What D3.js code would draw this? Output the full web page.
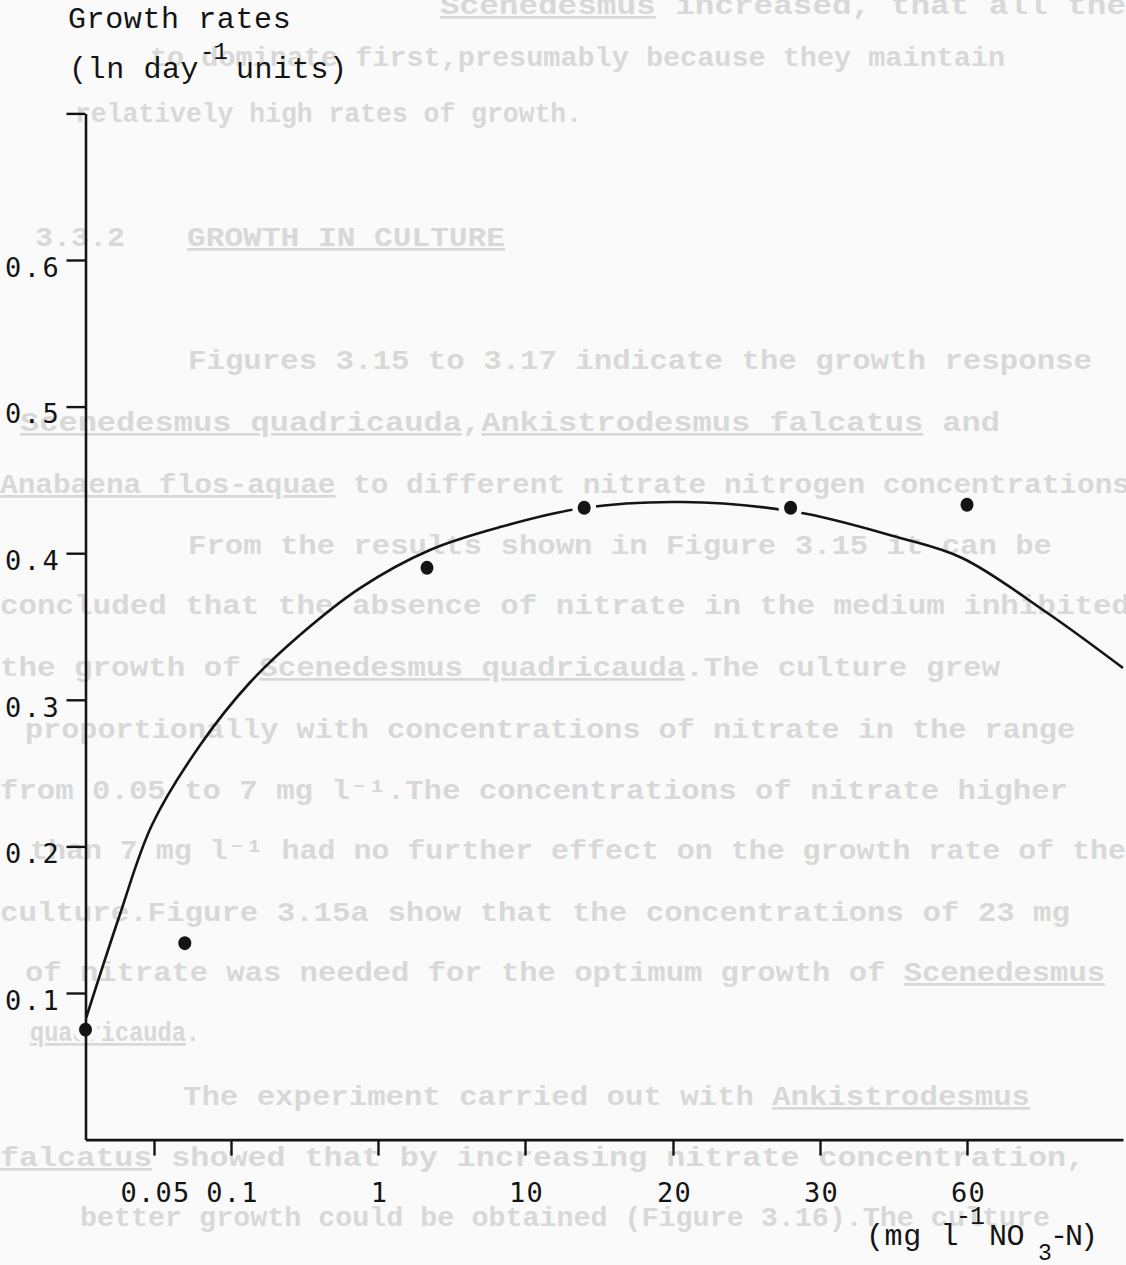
<!DOCTYPE html>
<html>
<head>
<meta charset="utf-8">
<script src="https://cdn.jsdelivr.net/npm/d3@7/dist/d3.min.js"></script>
<style>
  html, body { margin: 0; padding: 0; background: #fafafa; }
  svg { display: block; }
</style>
</head>
<body>
<svg id="chart" width="1126" height="1265"></svg>
<script>
// Nitrate concentration (mg l-1 NO3-N) and measured growth rate (ln day-1)
const concentration = [0, 0.07, 4, 14, 28, 60];
const growthRate = [0.075, 0.134, 0.390, 0.431, 0.431, 0.433];

// Hand-fitted response curve through the measurements
const fitConc = [0, 0.025, 0.0485, 0.08, 0.216, 0.522, 0.89, 4.18, 8.47, 13.9, 20.6, 28.4, 45.7, 59, 76.5, 92];
const fitRate = [0.0816, 0.1532, 0.2146, 0.2692, 0.3118, 0.3442, 0.3762, 0.4022, 0.4178, 0.4308, 0.4349, 0.4281, 0.411, 0.3967, 0.3592, 0.3217];

// Axis ticks
const xTickValues = [0.05, 0.1, 1, 10, 20, 30, 60];
const xTickLabels = ["0.05", "0.1", "1", "10", "20", "30", "60"];
const yTickValues = [0.1, 0.2, 0.3, 0.4, 0.5, 0.6, 0.7];
const yTickLabels = ["0.1", "0.2", "0.3", "0.4", "0.5", "0.6", ""];

// Faint show-through text of the facing typescript page (underscores mark underlined words)
const backPageText = [
  "_Scenedesmus_ increased, that all the",
  "to dominate first,presumably because they maintain",
  "relatively high rates of growth.",
  "3.3.2",
  "_GROWTH IN CULTURE_",
  "Figures 3.15 to 3.17 indicate the growth response",
  "_Scenedesmus quadricauda_,_Ankistrodesmus falcatus_ and",
  "_Anabaena flos-aquae_ to different nitrate nitrogen concentrations",
  "From the results shown in Figure 3.15 it can be",
  "concluded that the absence of nitrate in the medium inhibited",
  "the growth of _Scenedesmus quadricauda_.The culture grew",
  "proportionally with concentrations of nitrate in the range",
  "from 0.05 to 7 mg l\u207B\u00B9.The concentrations of nitrate higher",
  "than 7 mg l\u207B\u00B9 had no further effect on the growth rate of the",
  "culture.Figure 3.15a show that the concentrations of 23 mg",
  "of nitrate was needed for the optimum growth of _Scenedesmus_",
  "_quadricauda_.",
  "The experiment carried out with _Ankistrodesmus_",
  "_falcatus_ showed that by increasing nitrate concentration,",
  "better growth could be obtained (Figure 3.16).The culture"
];
// layout of those lines: [left, right, baseline]
const backPageLayout = [
  [440, 1126, 14], [150, 1005, 66], [75, 582, 122], [35, 125, 246], [187, 505, 246],
  [188, 1092, 369], [20, 1000, 431], [0, 1130, 493], [188, 1052, 554], [0, 1130, 614],
  [0, 1000, 676], [25, 1075, 738], [0, 1068, 799], [30, 1126, 859], [0, 1070, 921],
  [25, 1105, 981], [30, 200, 1041], [183, 1030, 1105], [0, 1085, 1166], [80, 1050, 1226]
];

const svg = d3.select("#chart");
const ink = "#141414";
const paper = "#fafafa";

// ---- show-through page text ----
const back = svg.append("g")
  .attr("font-family", "'Liberation Mono', 'DejaVu Sans Mono', monospace")
  .attr("font-weight", "bold")
  .attr("font-size", 27)
  .attr("fill", "#d8d8d8");

backPageText.forEach((line, i) => {
  const [x0, x1, yb] = backPageLayout[i];
  const t = back.append("text")
    .attr("x", x0).attr("y", yb)
    .attr("textLength", x1 - x0)
    .attr("lengthAdjust", "spacingAndGlyphs")
    .attr("xml:space", "preserve");
  line.split("_").forEach((part, k) => {
    if (!part) return;
    t.append("tspan")
      .attr("text-decoration", k % 2 ? "underline" : null)
      .text(part);
  });
});

// ---- scales ----
// piecewise scale: the horizontal axis is drawn with uneven spacing between the labelled doses
const x = d3.scaleLinear()
  .domain([0, 0.05, 0.1, 1, 10, 20, 30, 60, 92])
  .range([85.5, 154, 231, 378, 525, 673, 820, 967, 1123]);
const y = d3.scaleLinear()
  .domain([0, 0.7])
  .range([1139.6, 113.4]);

// ---- fitted curve ----
const line = d3.line()
  .x((d, i) => x(fitConc[i]))
  .y((d, i) => y(fitRate[i]))
  .curve(d3.curveCatmullRom.alpha(0.5));

svg.append("path")
  .datum(fitConc)
  .attr("d", line)
  .attr("fill", "none")
  .attr("stroke", ink)
  .attr("stroke-width", 2.6);

// pen lifted around the plotted points
svg.append("g").selectAll("circle")
  .data(concentration)
  .join("circle")
  .attr("cx", (d) => x(d))
  .attr("cy", (d, i) => y(growthRate[i]))
  .attr("r", 12)
  .attr("fill", paper);

// ---- axes ----
const xAxis = svg.append("g")
  .attr("transform", `translate(0,${y(0)})`)
  .call(d3.axisBottom(x)
    .tickValues(xTickValues)
    .tickFormat((d, i) => xTickLabels[i])
    .tickSize(16)
    .tickSizeOuter(0)
    .tickPadding(27));

const yAxis = svg.append("g")
  .attr("transform", `translate(${x(0)},0)`)
  .call(d3.axisLeft(y)
    .tickValues(yTickValues)
    .tickFormat((d, i) => yTickLabels[i])
    .tickSize(19)
    .tickSizeOuter(0));

[xAxis, yAxis].forEach(g => {
  g.select(".domain").attr("stroke", ink).attr("stroke-width", 2.6);
  g.selectAll(".tick line").attr("stroke", ink).attr("stroke-width", 2.4);
  g.selectAll(".tick text")
    .attr("fill", ink)
    .attr("font-family", "'DejaVu Sans Mono', monospace")
    .attr("font-size", 27);
});

xAxis.selectAll(".tick text")
  .attr("letter-spacing", 1.2)
  .attr("dx", 1);

yAxis.selectAll(".tick text")
  .attr("letter-spacing", 2.5)
  .attr("text-anchor", "start")
  .attr("x", 5 - x(0))
  .attr("dy", "0.6em");

// ---- points ----
svg.append("g").selectAll("ellipse")
  .data(concentration)
  .join("ellipse")
  .attr("cx", (d) => x(d))
  .attr("cy", (d, i) => y(growthRate[i]))
  .attr("rx", 6.5)
  .attr("ry", 7)
  .attr("fill", ink);

// ---- axis titles ----
const titles = svg.append("g")
  .attr("font-family", "'Liberation Mono', 'Courier New', monospace")
  .attr("fill", ink)
  .attr("xml:space", "preserve");

titles.append("text").attr("x", 68).attr("y", 28)
  .attr("font-size", 30).attr("letter-spacing", 0.6)
  .text("Growth rates");
titles.append("text").attr("x", 69).attr("y", 78)
  .attr("font-size", 30).attr("letter-spacing", 0.6)
  .text("(ln day");
titles.append("text").attr("x", 200).attr("y", 59)
  .attr("font-size", 24).attr("letter-spacing", -1)
  .text("-1");
titles.append("text").attr("x", 236).attr("y", 78)
  .attr("font-size", 30).attr("letter-spacing", 0.6)
  .text("units)");

titles.append("text").attr("x", 866).attr("y", 1245)
  .attr("font-size", 30).attr("letter-spacing", 0.6)
  .text("(mg l");
titles.append("text").attr("x", 956).attr("y", 1224)
  .attr("font-size", 25).attr("letter-spacing", -1)
  .text("-1");
titles.append("text").attr("x", 989).attr("y", 1245)
  .attr("font-size", 30).attr("letter-spacing", -0.5)
  .text("NO");
titles.append("text").attr("x", 1038).attr("y", 1260)
  .attr("font-size", 23)
  .text("3");
titles.append("text").attr("x", 1050).attr("y", 1245)
  .attr("font-size", 30).attr("letter-spacing", -3)
  .text("-N)");
</script>
</body>
</html>
